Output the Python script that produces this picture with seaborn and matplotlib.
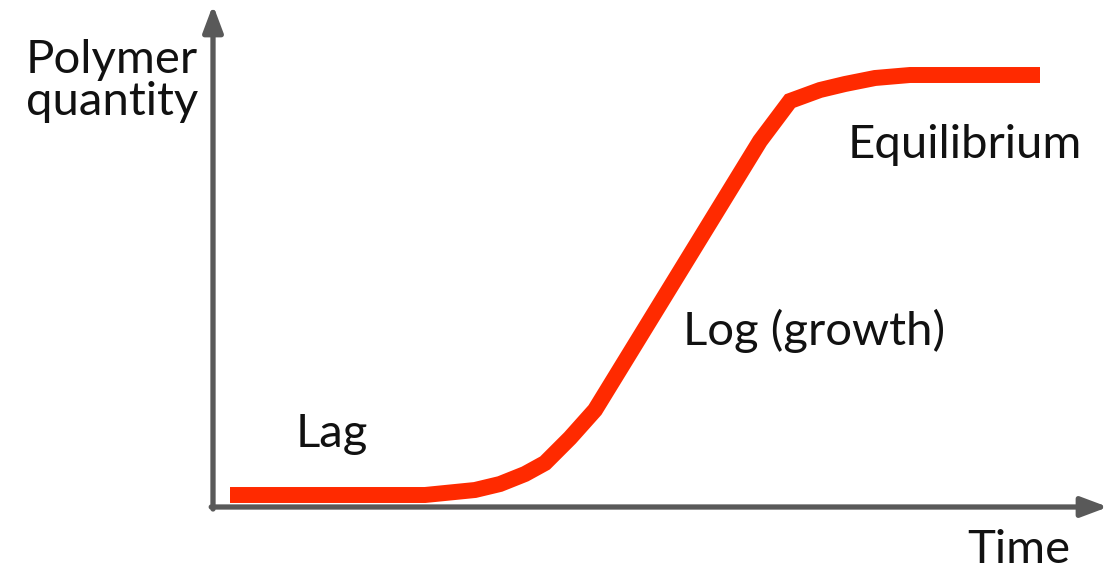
import matplotlib
matplotlib.use('Agg')
import matplotlib.pyplot as plt
import seaborn as sns
import pandas as pd

# S-shaped polymer growth curve (arbitrary units)
time = [1.7, 21.2, 26.2, 28.7, 31.2, 33.2, 35.7, 38.2, 54.7, 57.7, 60.7, 63.2, 66.2, 69.7, 82.7]
quantity = [1.2, 1.2, 1.7, 2.3, 3.3, 4.4, 6.9, 9.7, 36.6, 40.6, 41.7, 42.3, 42.9, 43.2, 43.2]

phase_labels = ['Lag', 'Log (growth)', 'Equilibrium']
phase_x = [8.3, 47.0, 63.5]
phase_y = [6.0, 16.2, 34.9]

df = pd.DataFrame({'time': time, 'quantity': quantity})

sns.set_style('white')
plt.rcParams['font.family'] = ['Lato', 'DejaVu Sans']

W, H = 1113, 579
fig = plt.figure(figsize=(W / 100, H / 100), dpi=100)
ax = fig.add_axes([213 / W, 72 / H, 895 / W, 502 / H])

sns.lineplot(data=df, x='time', y='quantity', ax=ax, color='#ff2a00',
             linewidth=11.5, solid_capstyle='butt', solid_joinstyle='miter', sort=False)

ax.set_xlim(0, 89.5)
ax.set_ylim(0, 50.2)
ax.set_xticks([])
ax.set_yticks([])
ax.set_xlabel('')
ax.set_ylabel('')
for s in ax.spines.values():
    s.set_visible(False)

axis_col = '#595959'
arrow = dict(arrowstyle='-|>,head_length=1.6,head_width=0.6', color=axis_col,
             lw=3.8, shrinkA=0, shrinkB=0)
ax.annotate('', xy=(1, 0), xytext=(-0.002, 0), xycoords='axes fraction',
            arrowprops=arrow, annotation_clip=False)
ax.annotate('', xy=(0, 1), xytext=(0, -0.004), xycoords='axes fraction',
            arrowprops=arrow, annotation_clip=False)

fs = 34
txt_col = '#111111'
for lab, x, y in zip(phase_labels, phase_x, phase_y):
    ax.text(x, y, lab, fontsize=fs, color=txt_col, va='baseline', ha='left')

fig.text(112 / W, 1 - 81 / H, 'Polymer\nquantity', fontsize=fs, ha='center',
         va='center', linespacing=1.02, color=txt_col)
fig.text(1070 / W, 1 - 563 / H, 'Time', fontsize=fs, ha='right', va='baseline',
         color=txt_col)

fig.savefig('out.png', dpi=100)
